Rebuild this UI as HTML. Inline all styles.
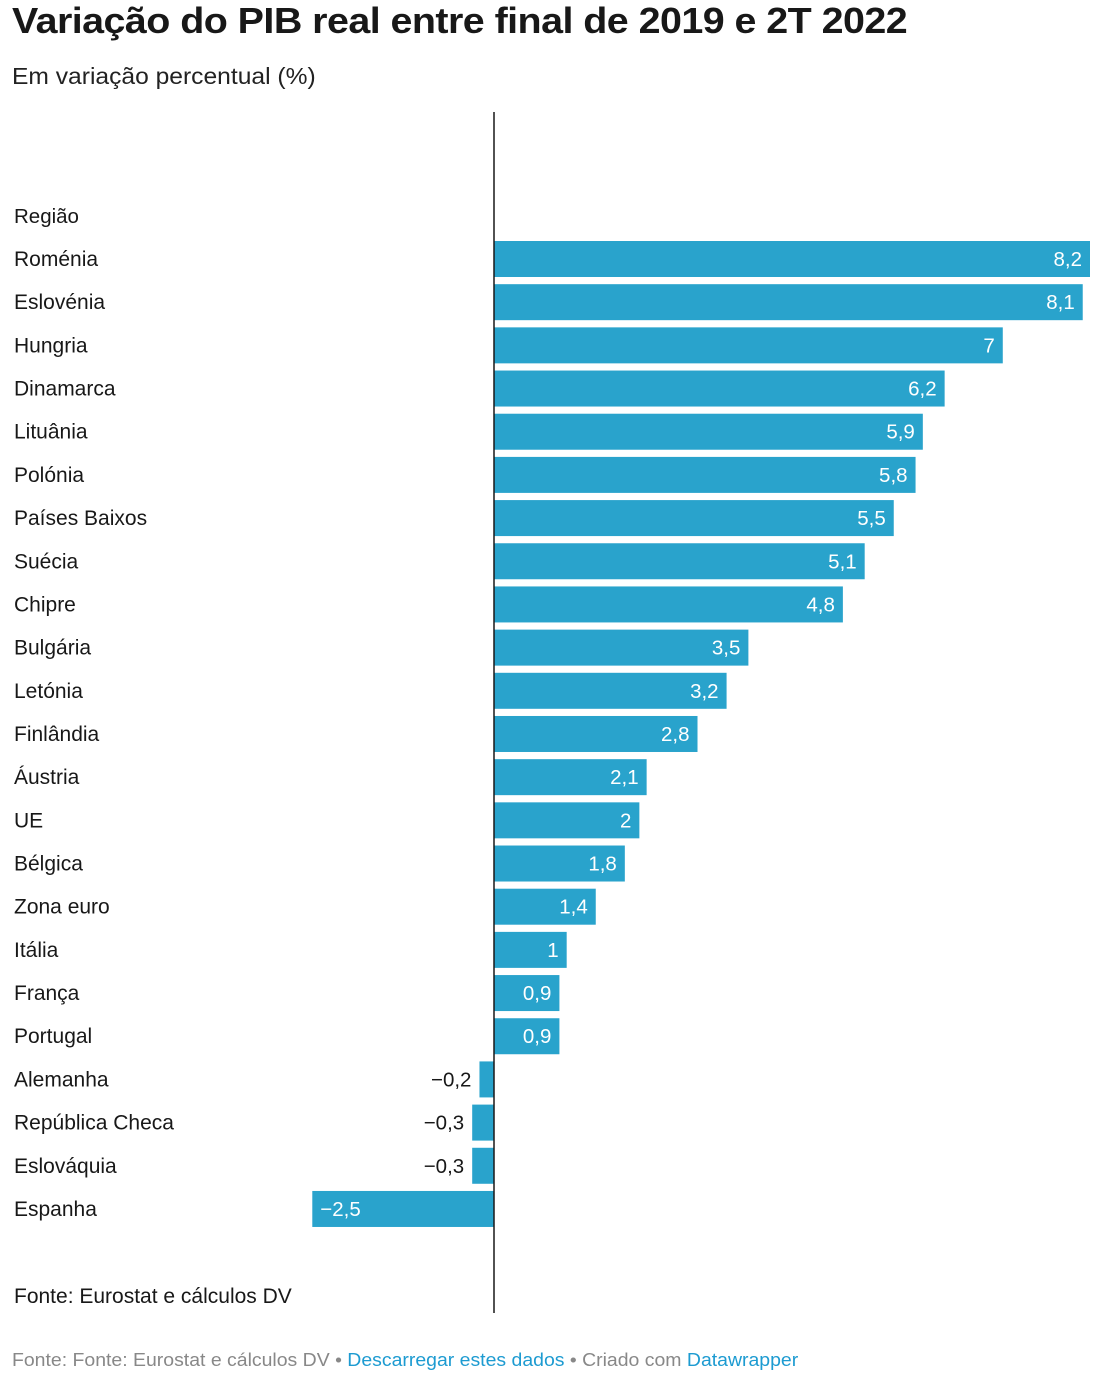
<!DOCTYPE html>
<html><head><meta charset="utf-8">
<style>
body{margin:0;width:1106px;height:1388px;background:#fff;font-family:"Liberation Sans",sans-serif;position:relative;overflow:hidden;color:#181818}
.t{position:absolute;white-space:nowrap;transform-origin:0 0}
</style></head><body>
<div class="t" style="left:12px;top:0px;font-size:36px;font-weight:bold;letter-spacing:-0.5px;transform:scaleX(1.095)">Variação do PIB real entre final de 2019 e 2T 2022</div>
<div class="t" style="left:12px;top:63px;font-size:23px;color:#222;transform:scaleX(1.07)">Em variação percentual (%)</div>
<svg id="chart" width="1106" height="1388" style="position:absolute;left:0;top:0"></svg>
<div class="t" style="left:12px;top:1350px;font-size:18px;color:#888;transform:scaleX(1.08)">Fonte: Fonte: Eurostat e cálculos DV • <span style="color:#1d9bd1">Descarregar estes dados</span> • Criado com <span style="color:#1d9bd1">Datawrapper</span></div>
<script>
const categories=["Roménia","Eslovénia","Hungria","Dinamarca","Lituânia","Polónia","Países Baixos","Suécia","Chipre","Bulgária","Letónia","Finlândia","Áustria","UE","Bélgica","Zona euro","Itália","França","Portugal","Alemanha","República Checa","Eslováquia","Espanha"];
const values=[8.2,8.1,7,6.2,5.9,5.8,5.5,5.1,4.8,3.5,3.2,2.8,2.1,2,1.8,1.4,1,0.9,0.9,-0.2,-0.3,-0.3,-2.5];
const labels=["8,2","8,1","7","6,2","5,9","5,8","5,5","5,1","4,8","3,5","3,2","2,8","2,1","2","1,8","1,4","1","0,9","0,9","−0,2","−0,3","−0,3","−2,5"];
const NS="http://www.w3.org/2000/svg";
const svg=document.getElementById('chart');
const x0=494,scale=596/8.2;
const xs=v=>x0+v*scale;
const yc=i=>259+i*43.18;
function mk(tag,attrs){const e=document.createElementNS(NS,tag);for(const k in attrs)e.setAttribute(k,attrs[k]);svg.appendChild(e);return e;}
const hdr=mk('text',{x:14,y:223,'font-size':20.5,fill:'#181818'});hdr.textContent="Região";


categories.forEach((c,i)=>{
  const v=values[i],y=yc(i);
  const lab=mk('text',{x:14,y:y+7,'font-size':21,fill:'#181818'});lab.textContent=c;
  
  
  const x1=Math.min(xs(0),xs(v)),w=Math.abs(xs(v)-xs(0));
  const r=mk('rect',{x:x1,y:y-18,width:w,height:36,fill:'#29a3cc'});
  
  
  const small=v<0&&v>-1;
  let tx,anchor,col;
  if(v>=0){tx=xs(v)-8;anchor='end';col='#fff';}
  else if(small){tx=xs(v)-8;anchor='end';col='#181818';}
  else{tx=xs(v)+8;anchor='start';col='#fff';}
  const t=mk('text',{x:tx,y:y+7,'font-size':20.5,fill:col,'text-anchor':anchor});t.textContent=labels[i];
  
  
});
const ax=mk('line',{x1:x0,x2:x0,y1:112,y2:1313,stroke:'#181818','stroke-width':1.5});


const src=mk('text',{x:14,y:1303,'font-size':21,fill:'#181818'});src.textContent="Fonte: Eurostat e cálculos DV";


</script>
</body></html>
